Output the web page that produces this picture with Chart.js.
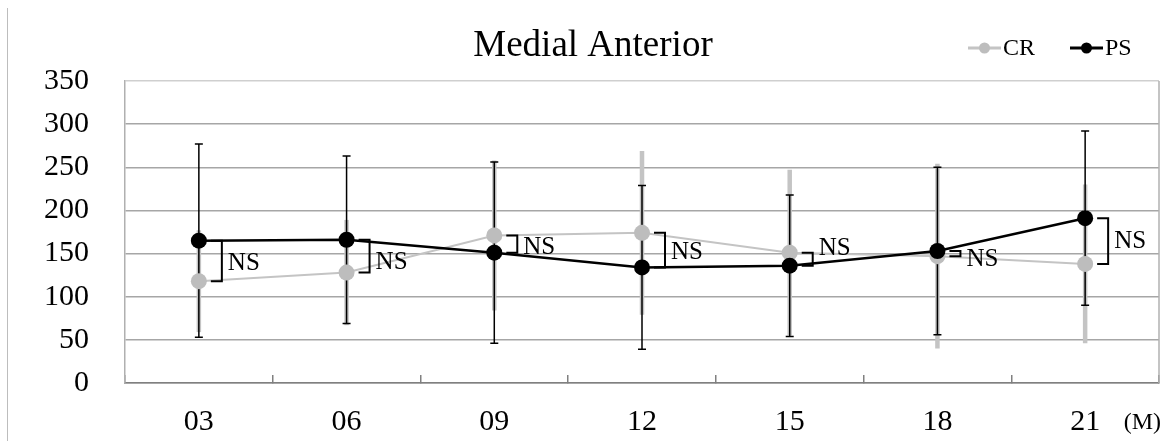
<!DOCTYPE html>
<html>
<head>
<meta charset="utf-8">
<script src="https://cdn.jsdelivr.net/npm/chart.js@4.4.0/dist/chart.umd.min.js"></script>
<style>
  html, body { margin: 0; padding: 0; background: #fff; }
  #wrap { position: relative; width: 1171px; height: 441px; }
  #borde { position: absolute; left: 7px; top: 8px; height: 433px; border-left: 1px solid #bdbdbd; }
</style>
</head>
<body>
<div id="wrap">
  <canvas id="grafico" width="1171" height="441"></canvas>
  <div id="borde"></div>
</div>
<script>
// datos (media y desviación estándar)
const meses = ['03', '06', '09', '12', '15', '18', '21'];
const crMedia = [118, 128, 171, 174, 151, 147, 138];
const crDE = [59, 61, 87, 95, 96, 107, 92];
const psMedia = [165, 166, 151, 134, 136, 153, 191];
const psDE = [112, 97, 105, 95, 82, 97, 101];
const significancia = ['NS', 'NS', 'NS', 'NS', 'NS', 'NS', 'NS'];
const yMin = 0, yMax = 350, yPaso = 50;

const FUENTE = '"Liberation Serif", "Times New Roman", serif';

// desplazamiento vertical de cada texto NS respecto al centro del corchete
const nsDesplY = [3, 6, 3, 2, -11, 6, 0];

const pluginExtras = {
    id: 'extras',
    beforeDatasetsDraw(chart) {
        const ctx = chart.ctx;
        const x = chart.scales.x, y = chart.scales.y;
        ctx.save();
        // barras de error CR (gris, gruesas, sin remate)
        ctx.strokeStyle = '#c4c4c4';
        ctx.lineWidth = 4.5;
        crMedia.forEach((m, i) => {
            const px = x.getPixelForValue(i);
            ctx.beginPath();
            ctx.moveTo(px, y.getPixelForValue(m + crDE[i]));
            ctx.lineTo(px, y.getPixelForValue(m - crDE[i]));
            ctx.stroke();
        });
        // barras de error PS (negras, con remate)
        ctx.strokeStyle = '#000';
        ctx.lineWidth = 1.5;
        psMedia.forEach((m, i) => {
            const px = x.getPixelForValue(i);
            const y1 = y.getPixelForValue(m + psDE[i]);
            const y2 = y.getPixelForValue(m - psDE[i]);
            ctx.beginPath();
            ctx.moveTo(px, y1); ctx.lineTo(px, y2);
            ctx.moveTo(px - 4, y1); ctx.lineTo(px + 4, y1);
            ctx.moveTo(px - 4, y2); ctx.lineTo(px + 4, y2);
            ctx.stroke();
        });
        ctx.restore();
    },
    afterDraw(chart) {
        const ctx = chart.ctx;
        const area = chart.chartArea;
        const x = chart.scales.x, y = chart.scales.y;
        ctx.save();

        // borde derecho del área de trazado
        ctx.strokeStyle = '#b0b0b0';
        ctx.lineWidth = 1.5;
        ctx.beginPath();
        ctx.moveTo(area.right, area.top);
        ctx.lineTo(area.right, area.bottom);
        ctx.stroke();

        // corchetes NS
        ctx.strokeStyle = '#000';
        ctx.lineWidth = 2;
        ctx.fillStyle = '#000';
        ctx.font = '25px ' + FUENTE;
        ctx.textAlign = 'left';
        ctx.textBaseline = 'middle';
        significancia.forEach((txt, i) => {
            const bx = x.getPixelForValue(i) + 23;
            const ya = y.getPixelForValue(psMedia[i]);
            const yb = y.getPixelForValue(crMedia[i]);
            ctx.beginPath();
            ctx.moveTo(bx - 11, ya);
            ctx.lineTo(bx, ya);
            ctx.lineTo(bx, yb);
            ctx.lineTo(bx - 11, yb);
            ctx.stroke();
            ctx.fillText(txt, bx + 6, (ya + yb) / 2 + nsDesplY[i]);
        });

        // título
        ctx.font = '37px ' + FUENTE;
        ctx.textAlign = 'center';
        ctx.fillText('Medial Anterior', 593, 46);

        // leyenda
        ctx.font = '24px ' + FUENTE;
        ctx.textAlign = 'left';
        const posLeyenda = [968, 1070];
        chart.data.datasets.forEach((ds, i) => {
            const lx = posLeyenda[i], ly = 48;
            ctx.strokeStyle = ds.borderColor;
            ctx.lineWidth = 3;
            ctx.beginPath();
            ctx.moveTo(lx, ly);
            ctx.lineTo(lx + 33, ly);
            ctx.stroke();
            ctx.fillStyle = ds.pointBackgroundColor;
            ctx.beginPath();
            ctx.arc(lx + 16.5, ly, 5.5, 0, Math.PI * 2);
            ctx.fill();
            ctx.fillStyle = '#000';
            ctx.fillText(ds.label, lx + 35, ly + 1);
        });

        // unidad del eje X
        ctx.font = '24px ' + FUENTE;
        ctx.textAlign = 'right';
        ctx.fillText('(M)', 1161, 423);

        ctx.restore();
    }
};

new Chart(document.getElementById('grafico'), {
    type: 'line',
    data: {
        labels: meses,
        datasets: [{
            label: 'CR',
            data: crMedia,
            borderColor: '#c4c4c4',
            borderWidth: 2,
            pointBackgroundColor: '#bdbdbd',
            pointBorderWidth: 0,
            pointRadius: 8,
            tension: 0,
            order: 1
        }, {
            label: 'PS',
            data: psMedia,
            borderColor: '#000000',
            borderWidth: 2.5,
            pointBackgroundColor: '#000000',
            pointBorderWidth: 0,
            pointRadius: 8,
            tension: 0,
            order: 0
        }]
    },
    options: {
        responsive: false,
        animation: false,
        devicePixelRatio: 1,
        layout: {
            padding: { top: 81, right: 12, left: 0, bottom: 0 }
        },
        scales: {
            x: {
                offset: true,
                grid: {
                    offset: true,
                    drawOnChartArea: false,
                    drawTicks: true,
                    tickLength: -8,
                    color: '#808080',
                    lineWidth: 1.5
                },
                border: { color: '#808080', width: 1.5 },
                ticks: {
                    color: '#000',
                    font: { family: FUENTE, size: 30 },
                    padding: 29,
                    maxRotation: 0
                },
                afterFit(scale) { scale.height = 58; }
            },
            y: {
                min: yMin,
                max: yMax,
                ticks: {
                    stepSize: yPaso,
                    color: '#000',
                    font: { family: FUENTE, size: 30 },
                    padding: 36
                },
                grid: {
                    drawTicks: false,
                    color: ctx => (ctx.tick && ctx.tick.value === yMax) ? '#cfcfcf' : '#a6a6a6',
                    lineWidth: 1.5
                },
                border: { color: '#b0b0b0', width: 1.5 },
                afterFit(scale) { scale.width = 125; }
            }
        },
        plugins: {
            legend: { display: false },
            title: { display: false },
            tooltip: { enabled: false }
        }
    },
    plugins: [pluginExtras]
});
</script>
</body>
</html>
